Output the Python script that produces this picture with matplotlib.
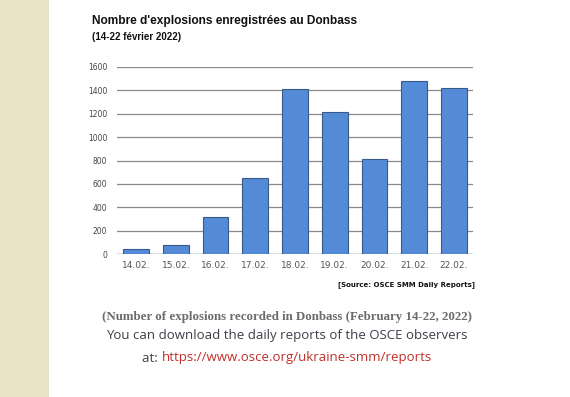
import matplotlib.pyplot as plt
import numpy as np

# data
days = ["14.02.", "15.02.", "16.02.", "17.02.", "18.02.", "19.02.", "20.02.", "21.02.", "22.02."]
explosions = [41, 76, 316, 654, 1413, 1215, 810, 1481, 1420]
yticks = [0, 200, 400, 600, 800, 1000, 1200, 1400, 1600]

fig = plt.figure(figsize=(5.7, 3.97), dpi=100)
fig.patch.set_facecolor("white")

# beige strip on the left
fig.patches.append(plt.Rectangle((0, 0), 49 / 570, 1, transform=fig.transFigure,
                                 facecolor="#e8e3c6", edgecolor="none", zorder=0))

ax = fig.add_axes([117 / 570, 1 - 254 / 397, 356 / 570, 187 / 397])
x = np.arange(len(days))
ax.bar(x, explosions, 0.65, color="#558ad6", edgecolor="#3a5a8c", linewidth=0.8, zorder=3)

ax.set_ylim(0, 1600)
ax.set_xlim(-0.48, len(days) - 0.52)
ax.set_yticks(yticks)
ax.set_yticklabels([str(v) for v in yticks], fontsize=5.5, color="#444444")
ax.set_xticks(x)
ax.set_xticklabels(days, fontsize=6.5, color="#555555")
ax.tick_params(axis="both", length=0, pad=7)
ax.tick_params(axis="x", pad=5)
ax.grid(axis="y", color="#8a8a8a", linewidth=0.9, zorder=0)
for s in ax.spines.values():
    s.set_visible(False)
ax.axhline(0, color="#8a8a8a", linewidth=1.0, zorder=2)

fig.text(92 / 570, 1 - 21 / 397, "Nombre d'explosions enregistrées au Donbass",
         fontsize=8.6, fontweight="bold", family="Liberation Sans", color="#111111", va="center")
fig.text(92 / 570, 1 - 37 / 397, "(14-22 février 2022)",
         fontsize=7, fontweight="bold", family="Liberation Sans", color="#111111", va="center")
fig.text(475 / 570, 1 - 285 / 397, "[Source: OSCE SMM Daily Reports]",
         fontsize=5.0, fontweight="bold", color="#111111", ha="right", va="center")

fig.text(287 / 570, 1 - 317 / 397, "(Number of explosions recorded in Donbass (February 14-22, 2022)",
         fontsize=9.3, fontweight="bold", family="Liberation Serif", color="#6b6b6b",
         ha="center", va="center")
fig.text(287 / 570, 1 - 336 / 397, "You can download the daily reports of the OSCE observers",
         fontsize=9.5, family="Open Sans", color="#3b3f48", ha="center", va="center")
t1 = fig.text(0, 0, "at: ", fontsize=9.5, family="Open Sans", color="#3b3f48")
t2 = fig.text(0, 0, "https://www.osce.org/ukraine-smm/reports", fontsize=9.5,
              family="Open Sans", color="#c0302a")
fig.canvas.draw()
r = fig.canvas.get_renderer()
w1 = t1.get_window_extent(r).width
w2 = t2.get_window_extent(r).width
x0 = 287 - (w1 + w2) / 2
y0 = 1 - 358 / 397
t1.set_position((x0 / 570, y0))
t2.set_position(((x0 + w1) / 570, y0))
t1.set_va("center")
t2.set_va("center")

fig.savefig("out.png", dpi=100)
